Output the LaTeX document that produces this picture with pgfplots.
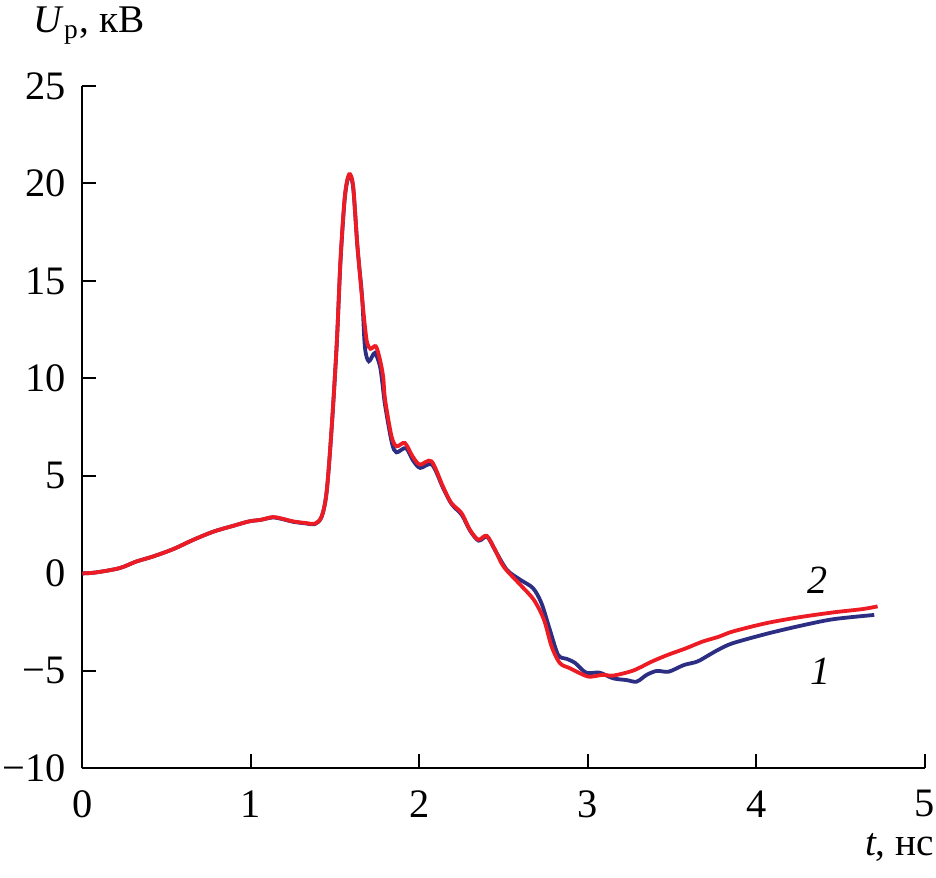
\documentclass[border=0pt]{standalone}
\usepackage{fontspec}
\setmainfont{Liberation Serif}
\usepackage{pgfplots}
\pgfplotsset{compat=1.18}
\definecolor{cred}{RGB}{237,28,36}
\definecolor{cblue}{RGB}{43,46,131}
\begin{document}
\begin{tikzpicture}
\begin{axis}[name=ax,
  scale only axis, width=210.6pt, height=170.6pt,
  xmin=0, xmax=5, ymin=-10, ymax=25,
  axis x line*=bottom, axis y line*=left,
  axis line style={line width=0.5pt, black},
  xtick={0,1,2,3,4,5},
  ytick={-10,-5,0,5,10,15,20,25},
  yticklabels={−10,−5,0,5,10,15,20,25},
  tick align=inside, major tick length=3.5pt,
  tick style={black, line width=0.5pt},
  /pgf/number format/assume math mode=true,
  tick label style={font=\fontsize{10.1}{12}\selectfont},
  xticklabel style={yshift=-2pt},
  yticklabel style={xshift=-0.6pt},
  clip=false,
  xlabel={\textit{t}, нс},
  xlabel style={font=\fontsize{9.8}{11}\selectfont, inner sep=0pt, at={(axis description cs:1,0)}, anchor=base east, xshift=2.5pt, yshift=-21.7pt},
  ylabel={\textit{U}\textsubscript{р}, кВ},
  ylabel style={font=\fontsize{9.8}{11}\selectfont, inner sep=0pt, rotate=-90, at={(axis description cs:0,1)}, anchor=base west, xshift=-12.4pt, yshift=13.25pt},
]
% curve 1 (blue)
\addplot[cblue, line width=0.95pt, smooth, tension=0.5] coordinates {
(0,0) (0.08,0.05) (0.22,0.27) (0.32,0.61) (0.42,0.87) (0.54,1.25) (0.66,1.73) (0.78,2.15) (0.895,2.44) (0.99,2.67) (1.06,2.75) (1.13,2.87) (1.19,2.78) (1.25,2.65) (1.33,2.56) (1.38,2.53) (1.42,2.9) (1.45,4.2) (1.48,7.5) (1.51,11.8) (1.532,16.0) (1.558,19.3) (1.583,20.4) (1.607,19.8) (1.633,16.7) (1.66,14.2) (1.677,11.6) (1.70,10.88) (1.736,11.31) (1.766,10.63) (1.78,9.8) (1.797,8.6) (1.837,6.7) (1.864,6.21) (1.92,6.43) (1.962,5.8) (2.005,5.41) (2.075,5.58) (2.142,4.36) (2.192,3.55) (2.252,3.0) (2.302,2.18) (2.352,1.68) (2.402,1.88) (2.452,1.15) (2.52,0.18) (2.60,-0.33) (2.675,-0.76) (2.725,-1.53) (2.775,-2.90) (2.824,-4.18) (2.874,-4.38) (2.923,-4.58) (2.99,-5.09) (3.07,-5.09) (3.15,-5.38) (3.23,-5.47) (3.29,-5.55) (3.35,-5.2) (3.41,-5.0) (3.48,-5.04) (3.57,-4.7) (3.65,-4.52) (3.72,-4.18) (3.78,-3.89) (3.86,-3.58) (4.06,-3.1) (4.26,-2.69) (4.456,-2.35) (4.70,-2.13)
};
% curve 2 (red)
\addplot[cred, line width=0.95pt, smooth, tension=0.5] coordinates {
(0,0) (0.08,0.05) (0.22,0.27) (0.32,0.61) (0.42,0.87) (0.54,1.25) (0.66,1.73) (0.78,2.15) (0.895,2.44) (0.99,2.67) (1.06,2.75) (1.13,2.89) (1.19,2.80) (1.25,2.67) (1.33,2.58) (1.38,2.55) (1.42,2.92) (1.45,4.2) (1.48,7.54) (1.51,11.83) (1.532,16.1) (1.558,19.36) (1.583,20.47) (1.607,19.87) (1.631,16.96) (1.657,14.4) (1.677,12.68) (1.69,11.83) (1.71,11.52) (1.742,11.65) (1.766,10.97) (1.785,10.1) (1.797,8.9) (1.835,7.03) (1.865,6.52) (1.914,6.69) (1.96,6.0) (2.003,5.58) (2.072,5.75) (2.14,4.46) (2.19,3.61) (2.25,3.10) (2.30,2.24) (2.35,1.73) (2.40,1.93) (2.45,1.2) (2.50,0.35) (2.60,-0.59) (2.68,-1.36) (2.74,-2.38) (2.785,-3.75) (2.834,-4.6) (2.893,-4.86) (2.953,-5.12) (3.01,-5.30) (3.09,-5.2) (3.15,-5.24) (3.27,-4.98) (3.38,-4.52) (3.48,-4.16) (3.58,-3.85) (3.68,-3.5) (3.78,-3.24) (3.86,-2.98) (4.06,-2.55) (4.26,-2.24) (4.456,-2.0) (4.63,-1.83) (4.72,-1.69)
};
\node[font=\fontsize{10}{11}\selectfont\itshape] at (axis cs:4.365,-0.33) {2};
\node[font=\fontsize{10}{11}\selectfont\itshape] at (axis cs:4.38,-5.04) {1};
\end{axis}
\pgfresetboundingbox
\path[use as bounding box] ([shift={(-20.6pt,-27.4pt)}]ax.south west) rectangle ([shift={(213.4pt,192.1pt)}]ax.south west);
\end{tikzpicture}
\end{document}
